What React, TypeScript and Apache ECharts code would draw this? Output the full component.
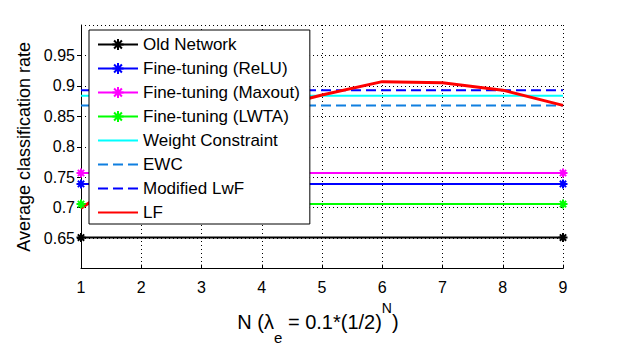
import React, { useEffect, useRef } from "react";
import * as echarts from "echarts";

const nValues = [1, 2, 3, 4, 5, 6, 7, 8, 9];
const endpoints = [1, 9];

const oldNetwork = [0.651, 0.651];
const ftReLU = [0.739, 0.739];
const ftMaxout = [0.757, 0.757];
const ftLWTA = [0.706, 0.706];
const weightConstraint = [0.884, 0.884];
const ewc = [0.868, 0.868];
const modifiedLwF = [0.893, 0.893];
const lf = [0.699, 0.765, 0.82, 0.86, 0.885, 0.907, 0.905, 0.893, 0.868];

const yTicks = [0.6, 0.65, 0.7, 0.75, 0.8, 0.85, 0.9, 0.95, 1.0];
const xTicks = nValues;

const FONT = "'Liberation Sans', Arial, Helvetica, sans-serif";
const STAR = "path://M4,0L4,8M0,4L8,4M1.2,1.2L6.8,6.8M6.8,1.2L1.2,6.8";
const HIDDEN_SYMBOL = { color: "rgba(0,0,0,0)", borderWidth: 0, borderColor: "rgba(0,0,0,0)" };

function pairs(xs: number[], ys: number[]) {
  return xs.map((x, i) => [x, ys[i]]);
}

export default function App() {
  const ref = useRef<HTMLDivElement>(null);
  useEffect(() => {
    if (!ref.current) return;
    const chart = echarts.init(ref.current, undefined, { renderer: "svg" });

    const markerLine = (name: string, color: string, ys: number[]) => ({
      name,
      type: "line",
      data: pairs(endpoints, ys),
      symbol: STAR,
      symbolSize: 9,
      showAllSymbol: true,
      lineStyle: { color, width: 2 },
      itemStyle: { color, borderColor: color, borderWidth: 2 },
      z: 3,
    });
    const plainLine = (name: string, color: string, xs: number[], ys: number[], type: any, width: number) => ({
      name,
      type: "line",
      data: pairs(xs, ys),
      symbol: "none",
      lineStyle: { color, width, type },
      itemStyle: { color },
      z: 3,
    });

    chart.setOption({
      animation: false,
      backgroundColor: "#ffffff",
      textStyle: { fontFamily: FONT },
      grid: { left: 81, right: 58, top: 25, bottom: 65 },
      legend: {
        orient: "vertical",
        left: 89,
        top: 30,
        padding: [6, 10, 3, 8],
        itemWidth: 40,
        itemHeight: 14,
        itemGap: 7,
        backgroundColor: "#ffffff",
        borderColor: "#000000",
        borderWidth: 1,
        borderRadius: 0,
        textStyle: { fontSize: 17, color: "#000", fontFamily: FONT },
        data: [
          "Old Network",
          "Fine-tuning (ReLU)",
          "Fine-tuning (Maxout)",
          "Fine-tuning (LWTA)",
          { name: "Weight Constraint", itemStyle: HIDDEN_SYMBOL },
          { name: "EWC", itemStyle: HIDDEN_SYMBOL },
          { name: "Modified LwF", itemStyle: HIDDEN_SYMBOL },
          { name: "LF", itemStyle: HIDDEN_SYMBOL },
        ],
        z: 10,
      },
      xAxis: {
        type: "value",
        min: xTicks[0],
        max: xTicks[xTicks.length - 1],
        interval: 1,
        name: "{a|N (λ}{sub|e}{a| = 0.1*(1/2)}{sup|N}{b|)}",
        nameLocation: "middle",
        nameGap: 18,
        nameTextStyle: {
          color: "#000",
          rich: {
            a: { fontSize: 20, fontFamily: FONT, color: "#000" },
            b: { fontSize: 20, fontFamily: FONT, color: "#000", padding: [0, 8, 0, 0] },
            sub: { fontSize: 15, fontFamily: FONT, color: "#000", padding: [32, 0, 0, 0] },
            sup: { fontSize: 14, fontFamily: FONT, color: "#000", padding: [0, 0, 28, 0] },
          },
        },
        axisLine: { lineStyle: { color: "#000", width: 1 } },
        axisTick: { inside: true, length: 4, lineStyle: { color: "#000" } },
        axisLabel: { fontSize: 16, color: "#000", margin: 11, fontFamily: FONT },
        splitLine: { show: true, lineStyle: { color: "#000", type: [1, 3], width: 1 } },
      },
      yAxis: {
        type: "value",
        min: yTicks[0],
        max: yTicks[yTicks.length - 1],
        interval: 0.05,
        name: "Average classification rate",
        nameLocation: "middle",
        nameGap: 48,
        nameTextStyle: { fontSize: 18, color: "#000", fontFamily: FONT },
        axisLine: { show: true, lineStyle: { color: "#000", width: 1 } },
        axisTick: { show: true, length: 4, lineStyle: { color: "#000" } },
        axisLabel: {
          fontSize: 16,
          color: "#000",
          margin: 6,
          fontFamily: FONT,
          showMinLabel: false,
          showMaxLabel: false,
          formatter: (v: number) => String(Math.round(v * 100) / 100),
        },
        splitLine: { show: true, lineStyle: { color: "#000", type: [1, 3], width: 1 } },
      },
      series: [
        markerLine("Old Network", "#000000", oldNetwork),
        markerLine("Fine-tuning (ReLU)", "#0000ff", ftReLU),
        markerLine("Fine-tuning (Maxout)", "#ff00ff", ftMaxout),
        markerLine("Fine-tuning (LWTA)", "#00ff00", ftLWTA),
        plainLine("Weight Constraint", "#00ffff", endpoints, weightConstraint, "solid", 2),
        plainLine("EWC", "#0f7fe0", endpoints, ewc, [10, 5], 2),
        plainLine("Modified LwF", "#0000ff", endpoints, modifiedLwF, [10, 5], 2),
        plainLine("LF", "#ff0000", nValues, lf, "solid", 3),
      ],
    });
    return () => chart.dispose();
  }, []);
  return (
    <div
      ref={ref}
      style={{ position: "absolute", left: 0, top: 0, width: 621, height: 350 }}
    />
  );
}
